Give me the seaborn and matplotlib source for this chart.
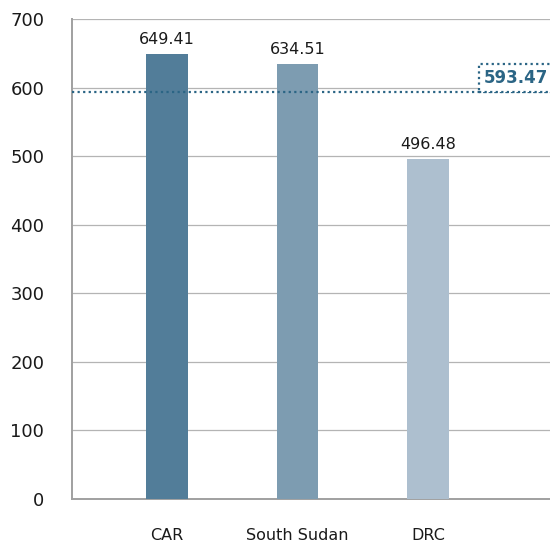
import matplotlib
matplotlib.use("Agg")
import matplotlib.pyplot as plt
import seaborn as sns
import pandas as pd

countries = ["CAR", "South Sudan", "DRC"]
values = [649.41, 634.51, 496.48]
bar_colors = ["#527d99", "#7d9cb1", "#adbfcf"]
average = 593.47
y_ticks = [0, 100, 200, 300, 400, 500, 600, 700]

sns.set_theme(style="white")
plt.rcParams["font.family"] = ["DejaVu Sans"]

df = pd.DataFrame({"country": countries, "value": values})

fig = plt.figure(figsize=(5.5, 5.42), dpi=100)
ax = fig.add_axes([72 / 550, 43 / 542, 478 / 550, 480 / 542])

sns.barplot(data=df, x="country", y="value", hue="country",
            palette=bar_colors, width=0.32, legend=False, ax=ax,
            saturation=1, linewidth=0, zorder=3)

ax.set_ylim(0, 700)
ax.set_xlim(-0.728, 2.935)
ax.set_yticks(y_ticks)
ax.yaxis.grid(True, color="#b4b4b4", linewidth=0.9, zorder=0)
ax.set_axisbelow(True)

for s in ["top", "right"]:
    ax.spines[s].set_visible(False)
for s in ["left", "bottom"]:
    ax.spines[s].set_color("#a0a0a0")
    ax.spines[s].set_linewidth(1.4)

ax.tick_params(axis="y", length=0, pad=20, labelsize=13, labelcolor="#1a1a1a")
ax.tick_params(axis="x", length=0, pad=21, labelsize=11.5, labelcolor="#1a1a1a")
ax.set_xlabel("")
ax.set_ylabel("")

# value labels above each bar
for i, v in enumerate(values):
    ax.annotate(f"{v:.2f}", (i, v), xytext=(0, 5), textcoords="offset points",
                ha="center", va="bottom", fontsize=11.5, color="#1a1a1a")

# average reference line with its boxed label at the right edge
ax.axhline(average, color="#2b6585", linestyle=(0, (1, 1.5)), linewidth=1.6, zorder=4)
ax.annotate(f"{average:.2f}", (1, average), xycoords=("axes fraction", "data"),
            xytext=(-47.5, 3.4), textcoords="offset points", ha="left", va="bottom",
            fontsize=12, fontweight="bold", color="#2b6585", zorder=5,
            annotation_clip=False,
            bbox=dict(boxstyle="square,pad=0.29", facecolor="white",
                      edgecolor="#2b6585", linestyle=(0, (1, 1.5)), linewidth=1.6))

fig.savefig("out.png", dpi=100)
